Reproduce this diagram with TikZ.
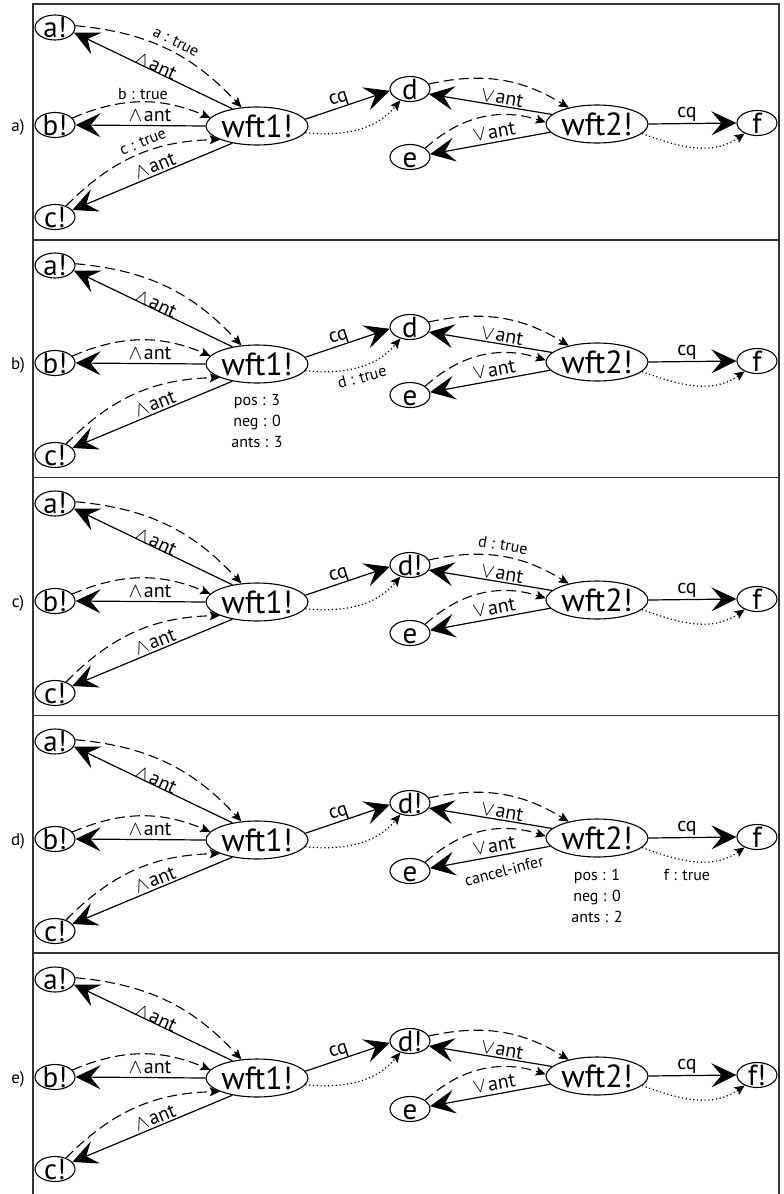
\documentclass[tikz,border=0pt]{standalone}
\usepackage{fontspec}
\setmainfont{PT Sans}
\usetikzlibrary{arrows.meta,shapes.geometric}
\newcommand\nt[1]{\raisebox{-0.35em}[0pt][0pt]{\makebox[0pt]{#1}}}
\newcommand\fs[1]{\fontsize{#1}{#1}\selectfont}
\newcommand\andant{$\wedge$\kern1.5pt ant}
\newcommand\orant{$\vee$\kern1.5pt ant}
\tikzset{
 nd/.style={ellipse, draw, line width=1.1pt, inner sep=0pt, minimum width=40pt, minimum height=25pt, font=\fs{29}},
 wn/.style={nd, minimum width=102pt, minimum height=38pt, font=\fs{32}},
 sol/.style={line width=1.2pt, -{Stealth[length=25pt,width=24pt,inset=10pt]}},
 dsh/.style={line width=1.1pt, dash pattern=on 10pt off 5pt, -{Stealth[length=10pt,width=9pt,inset=2pt]}},
 dotl/.style={line width=1.2pt, dash pattern=on 1.2pt off 2.6pt, -{Stealth[length=10pt,width=9pt,inset=2pt]}},
 lab/.style={font=\fs{20}, inner sep=0pt},
 sml/.style={font=\fontsize{16}{21}\selectfont, inner sep=0pt, align=center},
 plab/.style={font=\fs{17}, inner sep=0pt},
 frm/.style={line width=1.4pt, draw=black!80},
}
% #1 panel letter, #2 d text, #3 f text, #4 offset, #5 extras
\newcommand\pgraph[5]{%
\begin{scope}[shift={(0,-#4)}, name prefix=p#4-]
 \node[plab] (lbl) at (18,-127) {#1};
 \node[nd] (a) at (55,-27.5) {\nt{a!}};
 \node[nd] (b) at (55,-125) {\nt{b!}};
 \node[nd] (c) at (55,-217) {\nt{c!}};
 \node[wn] (w1) at (257,-126) {\nt{wft1!}};
 \node[nd] (d) at (410,-89) {\nt{#2}};
 \node[nd] (e) at (410,-157) {\nt{e}};
 \node[wn] (w2) at (597,-124) {\nt{wft2!}};
 \node[nd] (f) at (757,-123) {\nt{#3}};
 \draw[sol] (w1.145) -- (a.-15);
 \draw[dsh] (a.5) to[bend left=21] (w1.130);
 \draw[sol] (w1.west) -- (b.east);
 \draw[dsh] (b.22) to[bend left=23] (w1.170);
 \draw[sol] (w1.-145) -- (c.22);
 \draw[dsh] (c.45) to[bend left=22] (w1.-160);
 \draw[sol] (w1.8) -- (d.185);
 \draw[dotl] (w1.-8) to[out=-5,in=230] (d.-130);
 \draw[sol] (w2.168) -- (d.-15);
 \draw[dsh] (d.15) to[bend left=22] (w2.150);
 \draw[sol] (w2.-170) -- (e.8);
 \draw[dsh] (e.30) to[bend left=30] (w2.178);
 \draw[sol] (w2.east) -- (f.west);
 \draw[dotl] (w2.-12) to[out=-20,in=215] (f.-140);
 \node[lab, rotate=-25] (la) at (156,-66) {\andant};
 \node[lab] (lb) at (150,-115) {\andant};
 \node[lab, rotate=22] (lc) at (155,-166) {\andant};
 \node[lab, rotate=18] (lcq1) at (339,-100) {cq};
 \node[lab, rotate=-10] (ld) at (502,-98) {\orant};
 \node[lab, rotate=10] (le) at (494,-132) {\orant};
 \node[lab] (lcq2) at (687,-114) {cq};
 #5
\end{scope}}

\begin{document}
\begin{tikzpicture}[x=1pt,y=1pt]
\useasboundingbox (0,0) rectangle (784,-1194);
\draw[frm] (33,-1194) -- (33,-4) -- (779,-4) -- (779,-1194);
\foreach \yy in {240,477.7,715.4,953} \draw[frm] (33,-\yy) -- (779,-\yy);

\pgraph{a)}{d}{f}{0}{%
 \node[sml, rotate=-27] at (176,-42) {a : true};
 \node[sml] at (143,-94) {b : true};
 \node[sml, rotate=22] at (143,-142) {c : true};
}
\pgraph{b)}{d}{f}{238}{%
 \node[sml, rotate=15] at (362,-139) {d : true};
 \node[sml] at (257,-183) {pos : 3\\neg : 0\\ants : 3};
}
\pgraph{c)}{d!}{f}{476}{%
 \node[sml, rotate=-10] at (503,-69) {d : true};
}
\pgraph{d)}{d!}{f}{714}{%
 \node[sml, rotate=15] at (504,-157) {cancel-infer};
 \node[sml] at (597,-182) {pos : 1\\neg : 0\\ants : 2};
 \node[sml] at (687,-161) {f : true};
}
\pgraph{e)}{d!}{f!}{952}{}
\end{tikzpicture}
\end{document}
